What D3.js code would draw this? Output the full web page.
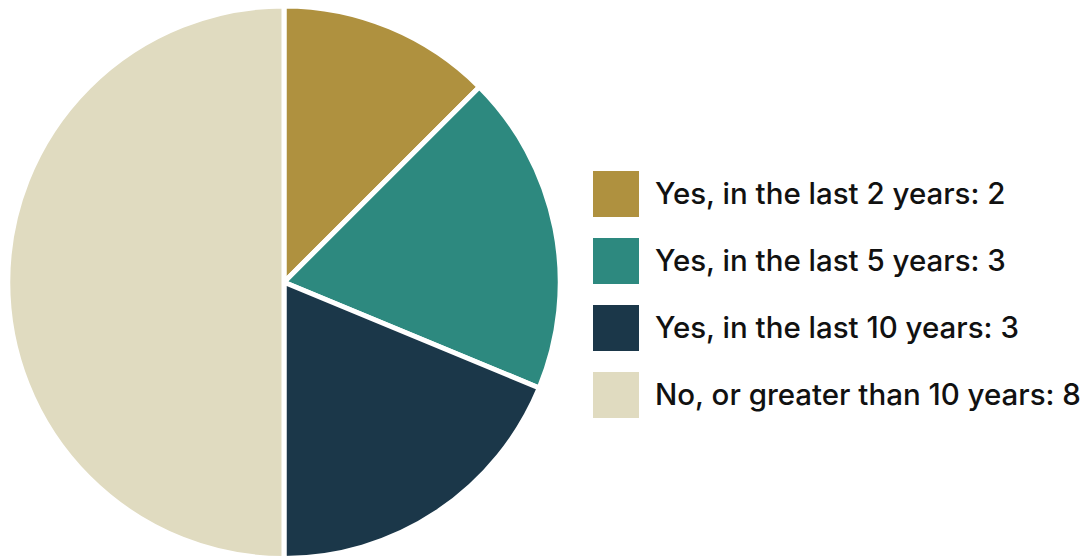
<!DOCTYPE html>
<html>
<head>
<meta charset="utf-8">
<script src="https://cdn.jsdelivr.net/npm/d3@7/dist/d3.min.js"></script>
<style>
  html, body { margin: 0; padding: 0; background: #ffffff; }
  svg { display: block; }
</style>
</head>
<body>
<svg id="chart" width="1086" height="556"></svg>
<script>
// Survey answers and their counts
const categories = [
  "Yes, in the last 2 years",
  "Yes, in the last 5 years",
  "Yes, in the last 10 years",
  "No, or greater than 10 years"
];
const counts = [2, 3, 3, 8];
const colors = ["#AF913F", "#2D897F", "#1B3749", "#E0DBC0"];

const W = 1086, H = 556;
const cx = 284, cy = 282.25, radius = 276.25;

const svg = d3.select("#chart");

const color = d3.scaleOrdinal().domain(categories).range(colors);

const data = categories.map((c, i) => ({ label: c, value: counts[i] }));

const pie = d3.pie().value(d => d.value).sort(null);
const arc = d3.arc().innerRadius(0).outerRadius(radius);

const g = svg.append("g").attr("transform", `translate(${cx},${cy})`);

g.selectAll("path")
  .data(pie(data))
  .join("path")
  .attr("d", arc)
  .attr("fill", d => color(d.data.label))
  .attr("stroke", "#ffffff")
  .attr("stroke-width", 5)
  .attr("stroke-linejoin", "round");

// Legend
const legendX = 593, legendY = 171, rowStep = 67, sw = 46;
const legend = svg.append("g").attr("transform", `translate(${legendX},${legendY})`);

const rows = legend.selectAll("g.row")
  .data(data)
  .join("g")
  .attr("class", "row")
  .attr("transform", (d, i) => `translate(0,${i * rowStep})`);

rows.append("rect")
  .attr("width", sw)
  .attr("height", sw)
  .attr("fill", d => color(d.label));

const texts = rows.append("text")
  .attr("x", 62)
  .attr("y", 33)
  .attr("font-family", "Inter, 'Open Sans', sans-serif")
  .attr("font-weight", 500)
  .attr("font-size", 27)
  .attr("fill", "#111111")
  .text(d => `${d.label}: ${d.value}`);

// fit longest label to the available width
const maxLen = d3.max(texts.nodes(), n => n.getComputedTextLength());
const target = 426;
const fs = 27 * target / maxLen;
texts.attr("font-size", fs);
</script>
</body>
</html>
